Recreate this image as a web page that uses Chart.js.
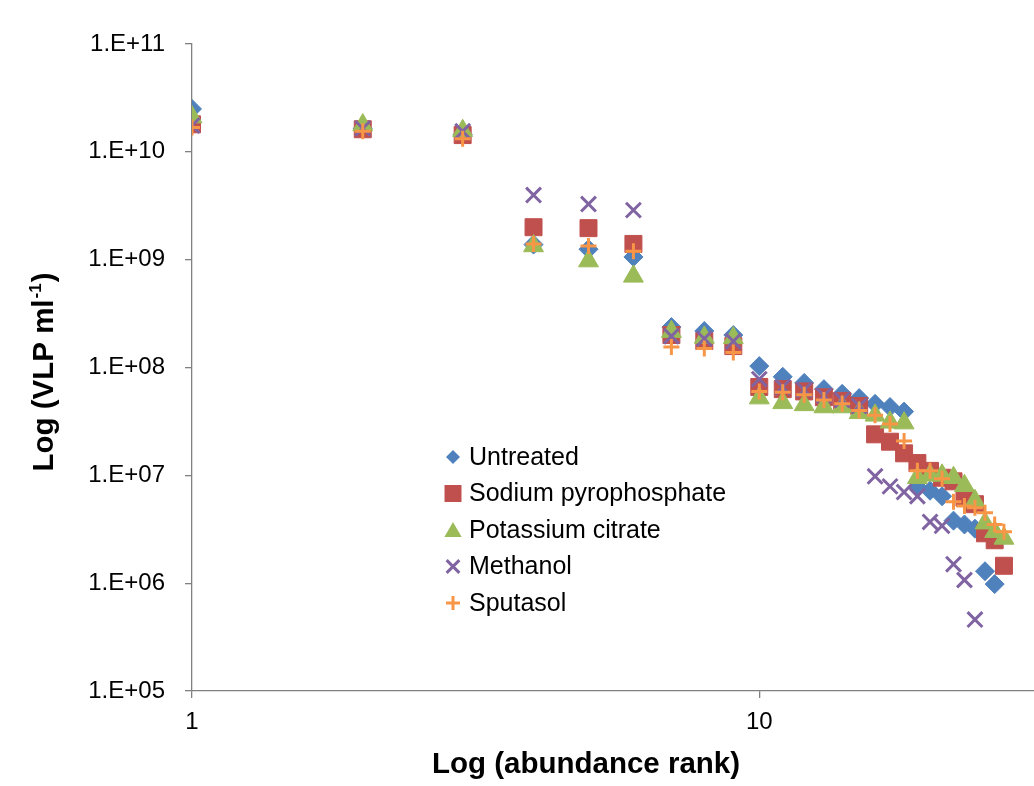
<!DOCTYPE html>
<html>
<head>
<meta charset="utf-8">
<title>Rank abundance of VLP</title>
<script src="https://cdn.jsdelivr.net/npm/chart.js@4/dist/chart.umd.min.js"></script>
<style>
  html, body { margin: 0; padding: 0; background: #ffffff; }
  #wrap { width: 1034px; height: 786px; }
</style>
</head>
<body>
<div id="wrap"><canvas id="chart" width="1034" height="786"></canvas></div>
<script>
// Series names, in drawing order
const seriesNames = ['Untreated', 'Sodium pyrophosphate', 'Potassium citrate', 'Methanol', 'Sputasol'];

// VLP ml-1 by abundance rank (index 0 = rank 1)
const untreated = [2.5e10, 1.65e10, 1.45e10, 1.38e9, 1.25e9, 1.06e9, 2.37e8, 2.18e8, 2.0e8, 1.03e8,
  8.2e7, 7.2e7, 6.3e7, 5.7e7, 5.2e7, 4.6e7, 4.3e7, 3.9e7, 7.8e6, 7.2e6,
  6.4e6, 3.8e6, 3.5e6, 3.2e6, 1.29e6, 9.8e5];
const sodiumPyrophosphate = [1.8e10, 1.62e10, 1.43e10, 2.0e9, 1.96e9, 1.4e9, 2.0e8, 1.76e8, 1.58e8, 6.6e7,
  6.3e7, 6.0e7, 5.3e7, 4.9e7, 4.4e7, 2.4e7, 2.05e7, 1.6e7, 1.3e7, 1.1e7,
  9.5e6, 8.8e6, 6.2e6, 5.4e6, 2.9e6, 2.5e6, 1.45e6];
const potassiumCitrate = [2.1e10, 1.77e10, 1.57e10, 1.34e9, 9.7e8, 7.0e8, 2.15e8, 1.9e8, 1.88e8, 5.2e7,
  4.7e7, 4.5e7, 4.3e7, 4.3e7, 3.8e7, 3.6e7, 3.1e7, 3.05e7, 9.5e6, 1.0e7,
  1.0e7, 9.5e6, 8.0e6, 5.8e6, 3.6e6, 3.0e6, 2.6e6];
const methanol = [1.75e10, 1.65e10, 1.55e10, 3.97e9, 3.28e9, 2.88e9, 1.95e8, 1.85e8, 1.75e8, 7.8e7,
  6.6e7, 6.2e7, 5.5e7, 5.0e7, 4.4e7, 9.8e6, 7.9e6, 7.0e6, 6.4e6, 3.7e6,
  3.4e6, 1.5e6, 1.07e6, 4.6e5];
const sputasol = [1.68e10, 1.55e10, 1.32e10, 1.4e9, 1.34e9, 1.2e9, 1.55e8, 1.5e8, 1.38e8, 6.0e7,
  5.9e7, 5.6e7, 5.0e7, 4.6e7, 4.0e7, 3.6e7, 3.0e7, 2.08e7, 1.1e7, 1.1e7,
  9.3e6, 5.7e6, 5.2e6, 5.0e6, 4.5e6, 3.5e6, 3.0e6];

// Axis ticks and titles
const xTickValues = [1, 10];
const yTickValues = [1e5, 1e6, 1e7, 1e8, 1e9, 1e10, 1e11];
const xTitle = 'Log (abundance rank)';
const yTitleMain = 'Log (VLP ml';
const yTitleSup = '-1';
const yTitleEnd = ')';

const FONT = "'Liberation Sans', Arial, Helvetica, sans-serif";
const AXIS_COLOR = '#808080';

const styles = [
  { color: '#4F81BD', shape: 'rectRot', radius: 9.5, lw: 1, legendR: 7 },
  { color: '#C0504D', shape: 'rect', radius: 12, lw: 1, legendR: 12 },
  { color: '#9BBB59', shape: 'triangle', radius: 11.5, lw: 1, legendR: 10 },
  { color: '#8064A2', shape: 'crossRot', radius: 10.5, lw: 3, legendR: 9 },
  { color: '#F79646', shape: 'cross', radius: 8, lw: 3, legendR: 7 }
];

const seriesValues = [untreated, sodiumPyrophosphate, potassiumCitrate, methanol, sputasol];

const datasets = seriesValues.map((vals, i) => {
  const s = styles[i];
  return {
    label: seriesNames[i],
    data: vals.map((v, k) => ({ x: k + 1, y: v })),
    pointStyle: s.shape,
    pointRadius: s.radius,
    pointHoverRadius: s.radius,
    pointBackgroundColor: s.color,
    pointBorderColor: s.color,
    pointBorderWidth: s.lw,
    showLine: false,
    order: seriesNames.length - i   // later series are painted on top
  };
});

// Legend drawn inside the plot area
const innerLegend = {
  id: 'innerLegend',
  afterDraw(chart) {
    const { ctx, chartArea } = chart;
    const x0 = chartArea.left + 261;
    const y0 = chartArea.top + 413;
    const step = 36.5;
    ctx.save();
    seriesNames.forEach((name, i) => {
      const s = styles[i];
      const cx = x0, cy = y0 + i * step;
      const r = s.legendR;
      ctx.fillStyle = s.color;
      ctx.strokeStyle = s.color;
      ctx.lineWidth = s.lw;
      ctx.beginPath();
      if (s.shape === 'rectRot') {
        ctx.moveTo(cx - r, cy); ctx.lineTo(cx, cy - r); ctx.lineTo(cx + r, cy); ctx.lineTo(cx, cy + r);
        ctx.closePath(); ctx.fill();
      } else if (s.shape === 'rect') {
        const h = r * Math.SQRT1_2;
        ctx.rect(cx - h, cy - h, 2 * h, 2 * h); ctx.fill();
      } else if (s.shape === 'triangle') {
        const w = r * 0.866;
        ctx.moveTo(cx, cy - r * 0.8); ctx.lineTo(cx + w, cy + r * 0.7); ctx.lineTo(cx - w, cy + r * 0.7);
        ctx.closePath(); ctx.fill();
      } else if (s.shape === 'crossRot') {
        const h = r * Math.SQRT1_2;
        ctx.moveTo(cx - h, cy - h); ctx.lineTo(cx + h, cy + h);
        ctx.moveTo(cx + h, cy - h); ctx.lineTo(cx - h, cy + h);
        ctx.stroke();
      } else {
        ctx.moveTo(cx - r, cy); ctx.lineTo(cx + r, cy);
        ctx.moveTo(cx, cy - r); ctx.lineTo(cx, cy + r);
        ctx.stroke();
      }
      ctx.fillStyle = '#000000';
      ctx.font = '25px ' + FONT;
      ctx.textBaseline = 'middle';
      ctx.textAlign = 'left';
      ctx.fillText(name, x0 + 16, cy + 1);
    });
    ctx.restore();
  }
};

// Axis titles, with a raised exponent on the y title
const axisTitles = {
  id: 'axisTitles',
  afterDraw(chart) {
    const { ctx, chartArea } = chart;
    const bold = (px) => 'bold ' + px + 'px ' + FONT;
    ctx.save();
    ctx.fillStyle = '#000000';
    ctx.textBaseline = 'middle';

    // x title
    ctx.font = bold(29.5);
    ctx.textAlign = 'center';
    ctx.fillText(xTitle, chartArea.left + 394, 765);

    // y title, rotated
    ctx.translate(45, chartArea.top + 328);
    ctx.rotate(-Math.PI / 2);
    ctx.font = bold(29.5);
    const w1 = ctx.measureText(yTitleMain).width;
    ctx.font = bold(17);
    const w2 = ctx.measureText(yTitleSup).width;
    ctx.font = bold(29.5);
    const w3 = ctx.measureText(yTitleEnd).width;
    let x = -(w1 + w2 + w3 + 2) / 2;
    ctx.textAlign = 'left';
    ctx.fillText(yTitleMain, x, 0);
    x += w1 + 1;
    ctx.font = bold(17);
    ctx.fillText(yTitleSup, x, -9);
    x += w2 + 1;
    ctx.font = bold(29.5);
    ctx.fillText(yTitleEnd, x, 0);
    ctx.restore();
  }
};

new Chart(document.getElementById('chart'), {
  type: 'scatter',
  data: { datasets },
  plugins: [innerLegend, axisTitles],
  options: {
    responsive: false,
    animation: false,
    devicePixelRatio: 1,
    layout: { autoPadding: false, padding: { top: 44, right: 0, bottom: 0, left: 0 } },
    plugins: {
      legend: { display: false },
      tooltip: { enabled: false },
      title: { display: false }
    },
    scales: {
      x: {
        type: 'logarithmic',
        position: 'bottom',
        min: 1,
        max: 30.5,
        afterBuildTicks: (scale) => { scale.ticks = xTickValues.map(v => ({ value: v })); },
        afterFit: (scale) => { scale.height = 95; },
        grid: { display: true, drawOnChartArea: false, drawTicks: true, tickLength: 7, color: AXIS_COLOR, lineWidth: 1.3 },
        border: { display: true, color: AXIS_COLOR, width: 1.3 },
        ticks: {
          autoSkip: false, maxRotation: 0, padding: 10, color: '#000000',
          font: { family: FONT, size: 24 },
          callback: (v) => String(v)
        },
        title: { display: false }
      },
      y: {
        type: 'logarithmic',
        position: 'left',
        min: 1e5,
        max: 1e11,
        afterBuildTicks: (scale) => { scale.ticks = yTickValues.map(v => ({ value: v })); },
        afterFit: (scale) => { scale.width = 192; },
        grid: { display: true, drawOnChartArea: false, drawTicks: true, tickLength: 7, color: AXIS_COLOR, lineWidth: 1.3 },
        border: { display: true, color: AXIS_COLOR, width: 1.3 },
        ticks: {
          autoSkip: false, padding: 20, color: '#000000',
          font: { family: FONT, size: 24 },
          callback: (v) => '1.E+' + String(Math.round(Math.log10(v))).padStart(2, '0')
        },
        title: { display: false }
      }
    }
  }
});
</script>
</body>
</html>
